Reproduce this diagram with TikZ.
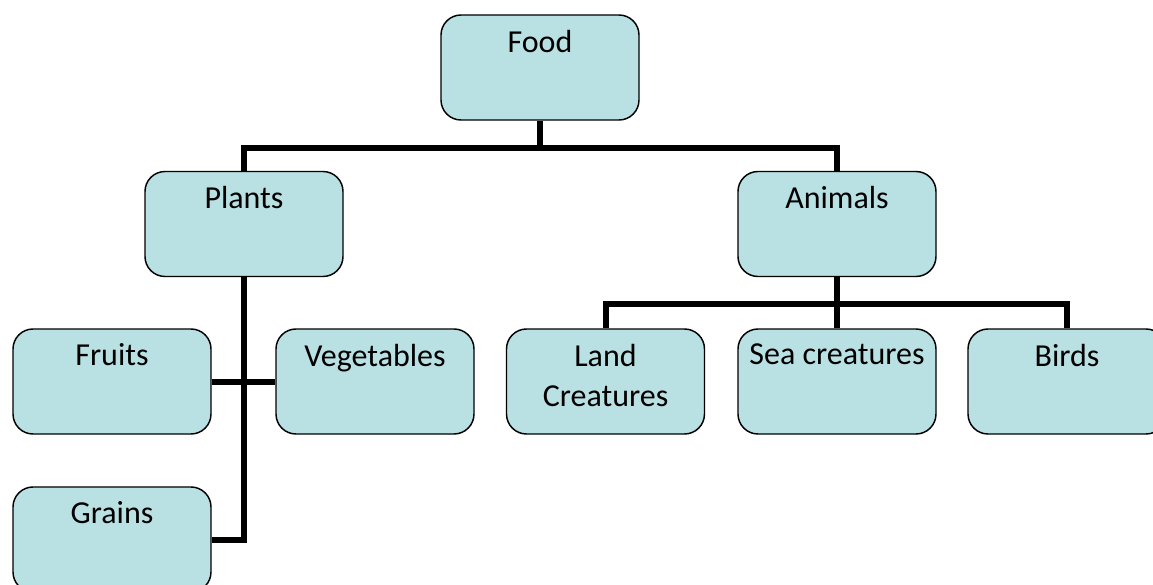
\documentclass[tikz,border=0pt]{standalone}
\usepackage{fontspec}
\setmainfont{Carlito}
\usetikzlibrary{positioning}
\definecolor{boxfill}{RGB}{185,224,227}

\begin{document}
\begin{tikzpicture}[x=0.75pt,y=-0.75pt,
    box/.style={draw=black,line width=1.1pt,rounded corners=15pt,fill=boxfill,
                minimum width=148.5pt,minimum height=78.75pt,inner sep=0pt},
    tag/.style={font=\fontsize{24}{30}\selectfont,align=center,inner sep=0pt,anchor=north},
    link/.style={line width=4.5pt},
    node distance=11.5pt]
    \useasboundingbox (0,0) rectangle (1153,585);
    \clip (0,0) rectangle (1153,585);

    % Boxes.
    \node[box] (food) at (540,67.5) {};
    \node[box] (plants) at (244,224) {};
    \node[box] (animals) at (837,224) {};
    \node[box] (fruits) at (112,381.5) {};
    \node[box] (veg) at (375,381.5) {};
    \node[box] (grains) at (112,539.5) {};
    \node[box] (land) at (605.5,381.5) {};
    \node[box] (sea) at (837,381.5) {};
    \node[box] (birds) at (1067,381.5) {};

    % Texts.
    \node[tag,below=of food.north] (foodtxt) {Food};
    \node[tag,below=of plants.north] (plantstxt) {Plants};
    \node[tag,below=of animals.north] (animalstxt) {Animals};
    \node[tag,below=of fruits.north] (fruitstxt) {Fruits};
    \node[tag,below=of veg.north] (vegtxt) {Vegetables};
    \node[tag,below=of grains.north] (grainstxt) {Grains};
    \node[tag,below=of land.north] (landtxt) {Land\\Creatures};
    \node[tag,below=of sea.north] (seatxt) {Sea creatures};
    \node[tag,below=of birds.north] (birdstxt) {Birds};

    % Bus points.
    \coordinate (foodbus) at (540,148);
    \coordinate (animalbus) at (837,304);

    % Food to plants and animals.
    \draw[link] (food.south) -- (foodbus);
    \draw[link] (plants.north) |- (foodbus) -| (animals.north);

    % Plants branch.
    \draw[link] (plants.south) |- (grains.east);
    \draw[link] (fruits.east) -- (veg.west);

    % Animals branch.
    \draw[link] (animals.south) -- (animalbus);
    \draw[link] (land.north) |- (animalbus) -| (birds.north);
    \draw[link] (animalbus) -- (sea.north);
\end{tikzpicture}
\end{document}
